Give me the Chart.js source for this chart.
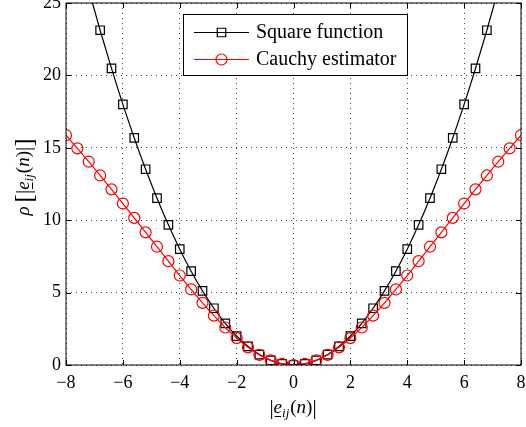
<!DOCTYPE html>
<html>
<head>
<meta charset="utf-8">
<script src="https://cdn.jsdelivr.net/npm/chart.js@4.4.0/dist/chart.umd.min.js"></script>
<style>
  html, body { margin: 0; padding: 0; background: #fff; }
</style>
</head>
<body>
<canvas id="grafico" width="526" height="427"></canvas>
<script>
// valores
const xValores = [-8, -7.6, -7.2, -6.8, -6.4, -6, -5.6, -5.2, -4.8, -4.4, -4, -3.6, -3.2, -2.8, -2.4, -2, -1.6, -1.2, -0.8, -0.4,
  0, 0.4, 0.8, 1.2, 1.6, 2, 2.4, 2.8, 3.2, 3.6, 4, 4.4, 4.8, 5.2, 5.6, 6, 6.4, 6.8, 7.2, 7.6, 8];
const quadrado = [32, 28.88, 25.92, 23.12, 20.48, 18, 15.68, 13.52, 11.52, 9.68, 8, 6.48, 5.12, 3.92, 2.88, 2, 1.28, 0.72, 0.32, 0.08,
  0, 0.08, 0.32, 0.72, 1.28, 2, 2.88, 3.92, 5.12, 6.48, 8, 9.68, 11.52, 13.52, 15.68, 18, 20.48, 23.12, 25.92, 28.88, 32];
const cauchy = [15.87, 14.96, 14.04, 13.09, 12.13, 11.15, 10.16, 9.16, 8.17, 7.17, 6.18, 5.22, 4.29, 3.41, 2.59, 1.86, 1.22, 0.70, 0.32, 0.08,
  0, 0.08, 0.32, 0.70, 1.22, 1.86, 2.59, 3.41, 4.29, 5.22, 6.18, 7.17, 8.17, 9.16, 10.16, 11.15, 12.13, 13.09, 14.04, 14.96, 15.87];
const ticksX = [-8, -6, -4, -2, 0, 2, 4, 6, 8];
const ticksY = [0, 5, 10, 15, 20, 25];
const rotulos = ["Square function", "Cauchy estimator"];

const fonte = "'Liberation Serif', 'Times New Roman', serif";

// escreve texto em pedaços (italico, subscrito, sublinhado)
function escreve(ctx, partes, x, y) {
  let total = 0;
  partes.forEach(p => {
    ctx.font = (p.it ? "italic " : "") + (p.tam || 19) + "px " + fonte;
    p.w = ctx.measureText(p.t).width + (p.esp || 0);
    total += p.w;
  });
  let px = x - total / 2;
  ctx.textBaseline = "alphabetic";
  ctx.textAlign = "left";
  partes.forEach(p => {
    ctx.font = (p.it ? "italic " : "") + (p.tam || 19) + "px " + fonte;
    ctx.fillText(p.t, px, y + (p.dy || 0));
    if (p.sub) {
      ctx.fillRect(px + 1, y + 3, p.w - 2, 1);
    }
    px += p.w;
  });
}

function partesTitulo(comRho) {
  const p = [];
  if (comRho) {
    p.push({ t: "ρ", it: true, esp: 4 });
    p.push({ t: "[", tam: 25, dy: 3 });
  }
  p.push({ t: "|", tam: 21, dy: 1 });
  p.push({ t: "e", it: true, sub: true });
  p.push({ t: "ij", it: true, tam: 13, dy: 4, esp: 1 });
  p.push({ t: "(" });
  p.push({ t: "n", it: true });
  p.push({ t: ")" });
  p.push({ t: "|", tam: 21, dy: 1 });
  if (comRho) p.push({ t: "]", tam: 25, dy: 3 });
  return p;
}

const moldura = {
  id: "moldura",
  afterDraw(chart) {
    const { ctx, chartArea: a, scales: { x, y } } = chart;
    ctx.save();
    ctx.strokeStyle = "#000";
    ctx.lineWidth = 1;
    ctx.strokeRect(a.left, a.top, a.right - a.left, a.bottom - a.top);
    // marcas para dentro nos quatro lados
    ctx.beginPath();
    ticksX.forEach(v => {
      const px = Math.round(x.getPixelForValue(v)) + 0.5;
      ctx.moveTo(px, a.bottom); ctx.lineTo(px, a.bottom - 5);
      ctx.moveTo(px, a.top); ctx.lineTo(px, a.top + 5);
    });
    ticksY.forEach(v => {
      const py = Math.round(y.getPixelForValue(v)) + 0.5;
      ctx.moveTo(a.left, py); ctx.lineTo(a.left + 5, py);
      ctx.moveTo(a.right, py); ctx.lineTo(a.right - 5, py);
    });
    ctx.stroke();

    // titulos dos eixos
    ctx.fillStyle = "#000";
    escreve(ctx, partesTitulo(false), 293, 413);
    ctx.save();
    ctx.translate(29, 177);
    ctx.rotate(-Math.PI / 2);
    escreve(ctx, partesTitulo(true), 0, 0);
    ctx.restore();

    // legenda
    const lx = 183.5, ly = 14.5, lw = 224, lh = 61;
    ctx.fillStyle = "#fff";
    ctx.fillRect(lx, ly, lw, lh);
    ctx.strokeStyle = "#000";
    ctx.strokeRect(lx, ly, lw, lh);
    const cores = ["#000", "#ff0000"];
    const estilos = ["rect", "circle"];
    [32, 59].forEach((ry, i) => {
      ctx.strokeStyle = cores[i];
      ctx.lineWidth = 1.2;
      ctx.beginPath();
      ctx.moveTo(194, ry + 0.5); ctx.lineTo(249, ry + 0.5);
      ctx.stroke();
      ctx.fillStyle = "rgba(0,0,0,0)";
      Chart.helpers.drawPoint(ctx, { pointStyle: estilos[i], radius: i ? 5.5 : 6, borderWidth: 1.2 }, 221.5, ry + 0.5);
      ctx.fillStyle = "#000";
      ctx.font = "20px " + fonte;
      ctx.textBaseline = "middle";
      ctx.textAlign = "left";
      ctx.fillText(rotulos[i], 256, ry + 1);
    });
    ctx.restore();
  }
};

const menos = v => (v < 0 ? "\u2212" + Math.abs(v) : String(v));

new Chart(document.getElementById("grafico"), {
  type: "line",
  data: {
    datasets: [
      {
        label: rotulos[1],
        data: xValores.map((v, i) => ({ x: v, y: cauchy[i] })),
        borderColor: "#ff0000",
        borderWidth: 1.2,
        pointStyle: "circle",
        pointRadius: 5.5,
        pointBorderWidth: 1.2,
        pointBorderColor: "#ff0000",
        pointBackgroundColor: "rgba(0,0,0,0)",
        cubicInterpolationMode: "monotone",
        order: 0
      },
      {
        label: rotulos[0],
        data: xValores.map((v, i) => ({ x: v, y: quadrado[i] })),
        borderColor: "#000",
        borderWidth: 1.2,
        pointStyle: "rect",
        pointRadius: 6,
        pointBorderWidth: 1.2,
        pointBorderColor: "#000",
        pointBackgroundColor: "rgba(0,0,0,0)",
        cubicInterpolationMode: "monotone",
        order: 1
      }
    ]
  },
  options: {
    responsive: false,
    animation: false,
    layout: { autoPadding: false, padding: { left: 20, right: 5, top: 3, bottom: 22 } },
    plugins: { legend: { display: false }, tooltip: { enabled: false } },
    scales: {
      x: {
        type: "linear", min: -8, max: 8,
        afterBuildTicks: s => { s.ticks = ticksX.map(v => ({ value: v })); },
        afterFit: s => { s.height = 40; s.paddingLeft = 0; s.paddingRight = 0; },
        ticks: { callback: menos, color: "#000", padding: 7, maxRotation: 0, font: { family: fonte, size: 18 } },
        grid: { color: "#444", drawTicks: false },
        border: { display: false, dash: [1, 4] }
      },
      y: {
        min: 0, max: 25,
        afterBuildTicks: s => { s.ticks = ticksY.map(v => ({ value: v })); },
        afterFit: s => { s.width = 46; s.paddingTop = 0; s.paddingBottom = 0; },
        ticks: { callback: menos, color: "#000", padding: 5, font: { family: fonte, size: 18 } },
        grid: { color: "#444", drawTicks: false },
        border: { display: false, dash: [1, 4] }
      }
    }
  },
  plugins: [moldura]
});
</script>
</body>
</html>
